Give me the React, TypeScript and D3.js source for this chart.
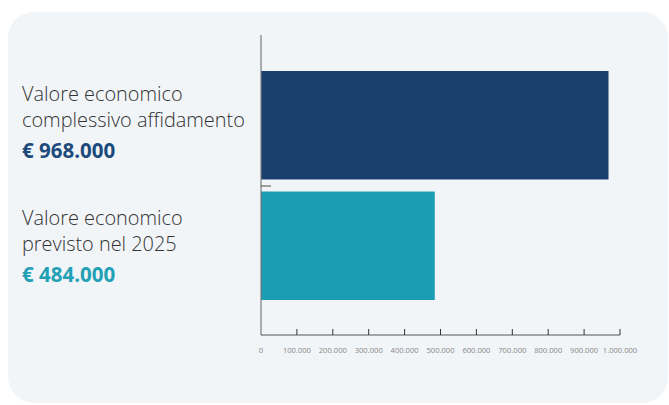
import React from "react";
import * as d3 from "d3";

const categories = ["Valore economico complessivo affidamento", "Valore economico previsto nel 2025"];
const labelLines = [["Valore economico", "complessivo affidamento"], ["Valore economico", "previsto nel 2025"]];
const values = [968000, 484000];
const valueLabels = ["€ 968.000", "€ 484.000"];
const tickValues = [0, 100000, 200000, 300000, 400000, 500000, 600000, 700000, 800000, 900000, 1000000];
const colors = ["#1b3f6f", "#1b9db3"];
const valueColors = ["#1d4a7c", "#22a0b5"];

export default function App() {
  const W = 669, H = 405;
  const x = d3.scaleLinear().domain([0, 1000000]).range([261, 620]);
  const y = d3.scaleBand<string>().domain(categories).range([71, 300]).paddingInner(0.1).paddingOuter(0);
  const fmt = (v: number) => d3.format(",")(v).replace(/,/g, ".");
  const axisY = 335;
  const labelBase = [101, 225];
  return (
    <svg width={W} height={H} style={{ position: "absolute", left: 0, top: 0 }}>
      <rect x={0} y={0} width={W} height={H} fill="#ffffff" />
      <rect x={8} y={12} width={660} height={391} rx={26} fill="#f2f5f8" />
      {categories.map((c, i) => (
        <rect key={c} x={x(0)} y={y(c)} width={x(values[i]) - x(0)} height={y.bandwidth()} fill={colors[i]} />
      ))}
      <line x1={261} x2={261} y1={35} y2={axisY} stroke="#7a7a7a" strokeWidth={1.2} />
      <line x1={261} x2={x(1000000)} y1={axisY} y2={axisY} stroke="#555" strokeWidth={1} />
      <line x1={261} x2={271} y1={186} y2={186} stroke="#666" strokeWidth={1.2} />
      {tickValues.map((t) => (
        <g key={t}>
          {t > 0 && <line x1={x(t)} x2={x(t)} y1={axisY - 6} y2={axisY} stroke="#333" strokeWidth={1} />}
          <text x={x(t)} y={353} textAnchor="middle" fontFamily="Open Sans" fontSize={7.6} fill="#888">{fmt(t)}</text>
        </g>
      ))}
      {categories.map((c, i) => (
        <g key={c} fontFamily="Open Sans">
          {labelLines[i].map((l, j) => (
            <text key={j} x={22} y={labelBase[i] + j * 25.5} fontSize={19.9} fontWeight={300} fill="#333">{l}</text>
          ))}
          <text x={22} y={labelBase[i] + 57} fontSize={20.5} fontWeight={700} fill={valueColors[i]}>{valueLabels[i]}</text>
        </g>
      ))}
    </svg>
  );
}
